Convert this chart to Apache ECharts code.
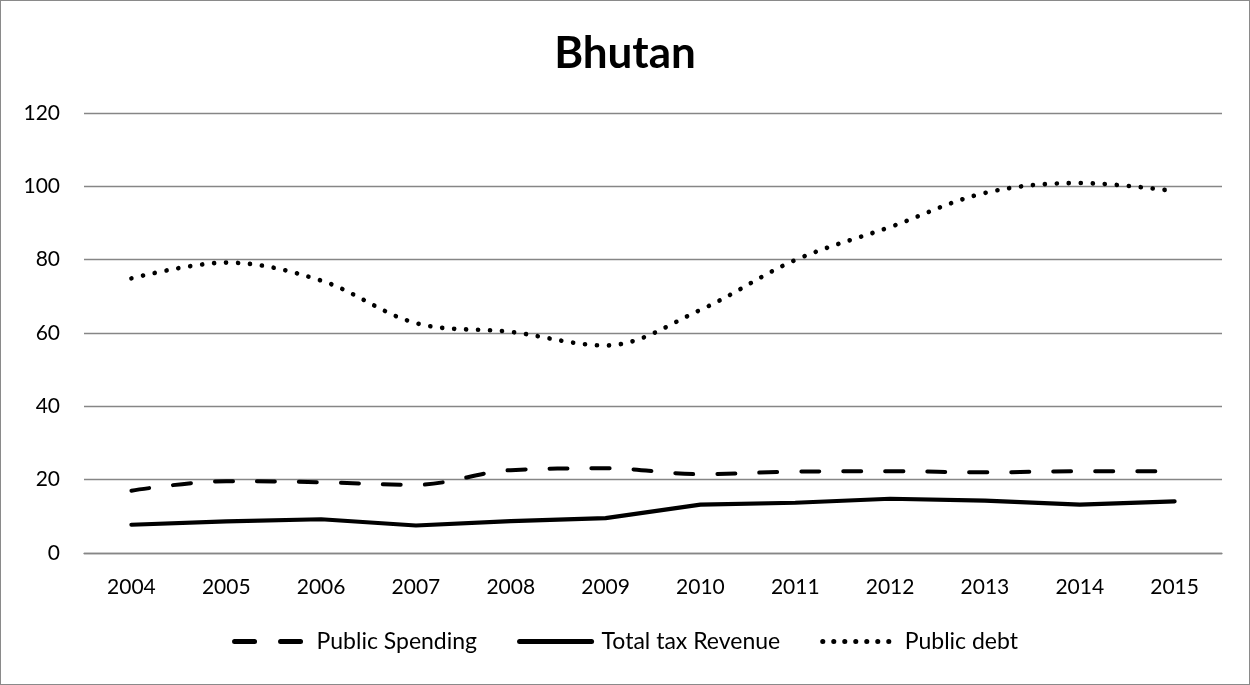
<!DOCTYPE html>
<html>
<head>
<meta charset="utf-8">
<script src="https://cdn.jsdelivr.net/npm/echarts@6/dist/echarts.min.js"></script>
<style>
  html, body { margin: 0; padding: 0; background: #fff; }
  #chart { width: 1250px; height: 685px; box-sizing: border-box; border: 1px solid #8a8a8a; }
</style>
</head>
<body>
<div id="chart"></div>
<script>
const years = ['2004','2005','2006','2007','2008','2009','2010','2011','2012','2013','2014','2015'];
const publicSpending = [17.0, 19.6, 19.3, 18.6, 22.6, 23.1, 21.5, 22.2, 22.3, 22.0, 22.3, 22.3];
const totalTaxRevenue = [7.7, 8.6, 9.2, 7.5, 8.7, 9.5, 13.2, 13.7, 14.8, 14.3, 13.2, 14.1];
const publicDebt = [74.9, 79.2, 74.3, 62.7, 60.3, 56.6, 66.3, 79.9, 88.9, 98.2, 100.9, 98.7];
const yTicks = [0, 20, 40, 60, 80, 100, 120];

const font = 'Lato, "Open Sans", sans-serif';
const dashed = { color: '#000', width: 4, type: [18, 24], cap: 'round' };
const solid = { color: '#000', width: 4.2, cap: 'round', join: 'round' };
const dotted = { color: '#000', width: 4.6, type: [0.1, 11.9], cap: 'round' };

const chart = echarts.init(document.getElementById('chart'), null, { renderer: 'canvas' });

chart.setOption({
  animation: false,
  backgroundColor: '#ffffff',
  title: {
    text: 'Bhutan',
    left: 'center',
    top: 26,
    textStyle: { fontFamily: font, fontSize: 44, fontWeight: 'bold', color: '#000' }
  },
  grid: { left: 83, right: 27, top: 112, bottom: 131, containLabel: false },
  legend: {
    bottom: 26,
    left: 'center',
    itemWidth: 72,
    itemHeight: 12,
    itemGap: 40,
    itemStyle: { opacity: 0 },
    textStyle: { fontFamily: font, fontSize: 23, color: '#000', padding: [0, 0, 0, 5] },
    data: [
      { name: 'Public Spending', lineStyle: { color: '#000', width: 5, type: [20, 26], cap: 'round' } },
      { name: 'Total tax Revenue', lineStyle: { color: '#000', width: 5, cap: 'round' } },
      { name: 'Public debt', lineStyle: { color: '#000', width: 5, type: [0.1, 10.9], cap: 'round' } }
    ]
  },
  xAxis: {
    type: 'category',
    data: years,
    boundaryGap: true,
    axisLine: { lineStyle: { color: '#868686', width: 1.3 } },
    axisTick: { show: false },
    axisLabel: { fontFamily: font, fontSize: 21, color: '#000', margin: 24 }
  },
  yAxis: {
    type: 'value',
    min: yTicks[0],
    max: yTicks[yTicks.length - 1],
    interval: 20,
    axisLine: { show: false },
    axisTick: { show: false },
    splitLine: { lineStyle: { color: '#868686', width: 1.3 } },
    axisLabel: { fontFamily: font, fontSize: 21, color: '#000', margin: 24 }
  },
  series: [
    {
      name: 'Public Spending',
      type: 'line',
      data: publicSpending,
      smooth: 0.35,
      symbol: 'none',
      lineStyle: dashed,
      itemStyle: { color: '#000' }
    },
    {
      name: 'Total tax Revenue',
      type: 'line',
      data: totalTaxRevenue,
      smooth: false,
      symbol: 'none',
      lineStyle: solid,
      itemStyle: { color: '#000' }
    },
    {
      name: 'Public debt',
      type: 'line',
      data: publicDebt,
      smooth: 0.35,
      symbol: 'none',
      lineStyle: dotted,
      itemStyle: { color: '#000' }
    }
  ]
});
</script>
</body>
</html>
